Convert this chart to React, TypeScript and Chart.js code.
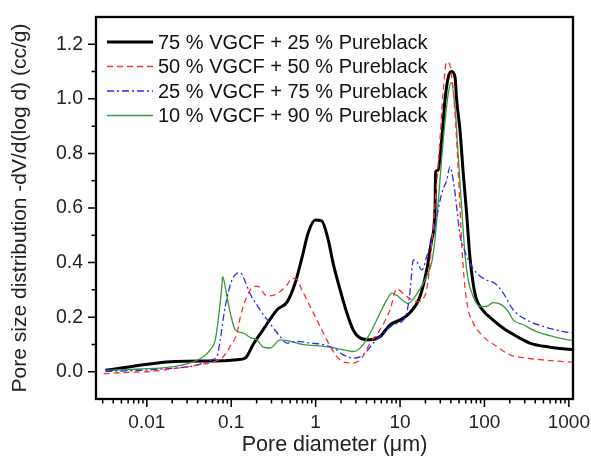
import React, { useEffect, useRef } from "react";
import { Chart, registerables } from "chart.js";

Chart.register(...registerables);

const FONT = "'Liberation Sans', Arial, sans-serif";

const seriesLabels = [
  "75 % VGCF + 25 % Pureblack",
  "50 % VGCF + 50 % Pureblack",
  "25 % VGCF + 75 % Pureblack",
  "10 % VGCF + 90 % Pureblack",
];

// 75 % VGCF (black)
const blackX = [0.00323, 0.0217, 0.0804, 0.118, 0.1465, 0.182, 0.239, 0.35, 0.46, 0.572, 0.692, 0.815, 0.986, 1.18, 1.41, 1.61, 1.95, 2.34, 2.78, 3.36, 4.42, 5.8, 7.62, 10, 13.1, 17.2, 20.7, 23.7, 26.0, 26.4, 28.4, 31.1, 34.1, 37.3, 40.9, 44.8, 46.9, 51.3, 56.1, 61.5, 67.3, 73, 79.6, 95.9, 126, 166, 243, 345, 596, 1000, 1110];
const blackY = [0.005, 0.037, 0.04, 0.044, 0.05, 0.1, 0.154, 0.227, 0.256, 0.325, 0.42, 0.508, 0.556, 0.553, 0.483, 0.398, 0.3, 0.216, 0.154, 0.124, 0.117, 0.129, 0.172, 0.19, 0.216, 0.275, 0.373, 0.483, 0.6, 0.732, 0.739, 0.848, 0.995, 1.08, 1.1, 1.08, 0.995, 0.885, 0.727, 0.58, 0.42, 0.33, 0.27, 0.225, 0.19, 0.16, 0.129, 0.105, 0.09, 0.082, 0.081];

// 50 % VGCF (red dashed)
const redX = [0.00308, 0.00531, 0.011, 0.0228, 0.043, 0.0678, 0.081, 0.0973, 0.117, 0.128, 0.153, 0.184, 0.206, 0.264, 0.347, 0.456, 0.527, 0.59, 0.688, 0.861, 1.13, 1.42, 1.78, 2.23, 2.8, 3.52, 4.42, 5.8, 7.62, 9.14, 11.5, 15.8, 19.8, 21.4, 23.9, 26.7, 29.7, 32.5, 35.7, 38.3, 42.7, 46.9, 51.3, 54.2, 58.8, 64.3, 73.7, 96.8, 139, 200, 316, 596, 1100];
const redY = [-0.007, -0.003, 0.001, 0.013, 0.026, 0.041, 0.056, 0.093, 0.141, 0.2, 0.275, 0.312, 0.313, 0.278, 0.285, 0.318, 0.342, 0.34, 0.3, 0.239, 0.166, 0.105, 0.056, 0.034, 0.032, 0.05, 0.105, 0.154, 0.227, 0.303, 0.28, 0.257, 0.28, 0.33, 0.48, 0.66, 0.85, 1.03, 1.135, 1.13, 1.03, 0.848, 0.604, 0.45, 0.31, 0.227, 0.178, 0.129, 0.093, 0.062, 0.05, 0.041, 0.035];

// 25 % VGCF (blue dash-dot)
const blueX = [0.00323, 0.00838, 0.0208, 0.0327, 0.047, 0.0591, 0.0678, 0.0741, 0.081, 0.089, 0.102, 0.117, 0.128, 0.1465, 0.168, 0.22, 0.29, 0.38, 0.456, 0.6, 0.861, 1.24, 1.63, 2.13, 2.8, 3.68, 4.83, 6.34, 8.33, 10.5, 12, 13.1, 14.4, 15.8, 18.1, 20.7, 23.7, 27.2, 31.1, 35.7, 39.1, 42.7, 46.9, 51.3, 56.1, 64.3, 80.9, 106, 133, 167, 219, 316, 497, 981, 1100];
const blueY = [0.001, 0.005, 0.013, 0.019, 0.032, 0.044, 0.056, 0.117, 0.2, 0.27, 0.336, 0.361, 0.363, 0.33, 0.285, 0.227, 0.175, 0.129, 0.105, 0.111, 0.105, 0.099, 0.087, 0.062, 0.05, 0.062, 0.105, 0.141, 0.172, 0.184, 0.215, 0.29, 0.41, 0.403, 0.373, 0.422, 0.483, 0.568, 0.653, 0.702, 0.751, 0.702, 0.604, 0.5, 0.458, 0.41, 0.361, 0.336, 0.324, 0.288, 0.227, 0.19, 0.166, 0.144, 0.142];

// 10 % VGCF (green)
const greenX = [0.00323, 0.00838, 0.0208, 0.0327, 0.047, 0.0564, 0.0647, 0.0708, 0.0777, 0.079, 0.0826, 0.089, 0.102, 0.111, 0.14, 0.168, 0.201, 0.241, 0.29, 0.38, 0.5, 0.718, 1.24, 1.95, 2.8, 3.52, 4.42, 5.8, 6.97, 7.98, 9.14, 10.9, 12.4, 15.8, 20.7, 23.7, 25.9, 32.5, 37.3, 40.2, 44.8, 49, 53.7, 58.8, 64.3, 73.7, 88.5, 106, 127, 160, 192, 219, 288, 415, 652, 981, 1100];
const greenY = [0.005, 0.01, 0.019, 0.032, 0.056, 0.08, 0.117, 0.2, 0.32, 0.348, 0.33, 0.275, 0.19, 0.154, 0.141, 0.125, 0.117, 0.09, 0.087, 0.117, 0.111, 0.099, 0.093, 0.083, 0.074, 0.093, 0.141, 0.215, 0.263, 0.288, 0.28, 0.26, 0.25, 0.285, 0.35, 0.4, 0.483, 0.848, 1.02, 1.06, 0.97, 0.787, 0.604, 0.43, 0.336, 0.275, 0.239, 0.239, 0.253, 0.245, 0.22, 0.19, 0.172, 0.147, 0.129, 0.117, 0.115];

const xMajorTicks = [0.01, 0.1, 1, 10, 100, 1000];
const xTickLabels = ["0.01", "0.1", "1", "10", "100", "1000"];
const yMajorTicks = [0, 0.2, 0.4, 0.6, 0.8, 1.0, 1.2];
const yMinorTicks = [0.1, 0.3, 0.5, 0.7, 0.9, 1.1];

const colors = ["#000000", "#ff3030", "#2a2aff", "#3a9a3a"];
const widths = [3, 1.3, 1.3, 1.3];
const dashes: number[][] = [[], [6, 4], [7, 3, 2, 3], []];

function toPoints(xs: number[], ys: number[]) {
  return xs.map((x, i) => ({ x, y: ys[i] }));
}

const framePlugin = {
  id: "frameTicks",
  afterDraw(chart: any) {
    const { ctx, chartArea } = chart;
    const { left, right, top, bottom } = chartArea;
    const xs = chart.scales.x;
    const ys = chart.scales.y;
    ctx.save();
    ctx.strokeStyle = "#000";
    ctx.setLineDash([]);
    ctx.lineWidth = 1.5;
    const xMinor: number[] = [];
    for (let d = -3; d <= 3; d++) {
      for (let m = 2; m <= 9; m++) {
        const v = m * Math.pow(10, d);
        if (v > xs.min && v < xs.max) xMinor.push(v);
      }
    }
    ctx.beginPath();
    xMajorTicks.forEach((v) => {
      const p = xs.getPixelForValue(v);
      ctx.moveTo(p, bottom);
      ctx.lineTo(p, bottom + 8);
    });
    xMinor.forEach((v) => {
      const p = xs.getPixelForValue(v);
      ctx.moveTo(p, bottom);
      ctx.lineTo(p, bottom + 4.5);
    });
    yMajorTicks.forEach((v) => {
      const p = ys.getPixelForValue(v);
      ctx.moveTo(left, p);
      ctx.lineTo(left - 8, p);
    });
    yMinorTicks.forEach((v) => {
      const p = ys.getPixelForValue(v);
      ctx.moveTo(left, p);
      ctx.lineTo(left - 4.5, p);
    });
    ctx.stroke();
    ctx.lineWidth = 2.3;
    ctx.strokeRect(left, top, right - left, bottom - top);

    // legend
    const rowY0 = top + 25;
    const rowGap = 24.5;
    chart.data.datasets.forEach((ds: any, i: number) => {
      const y = rowY0 + i * rowGap;
      ctx.beginPath();
      ctx.strokeStyle = ds.borderColor;
      ctx.lineWidth = ds.borderWidth;
      ctx.setLineDash(ds.borderDash || []);
      ctx.moveTo(left + 11, y);
      ctx.lineTo(left + 57, y);
      ctx.stroke();
      ctx.setLineDash([]);
      ctx.fillStyle = "#111";
      ctx.font = `20px ${FONT}`;
      ctx.textBaseline = "middle";
      ctx.textAlign = "left";
      ctx.fillText(ds.label, left + 62, y + 1);
    });
    ctx.restore();
  },
};

export default function App() {
  const ref = useRef<HTMLCanvasElement | null>(null);
  useEffect(() => {
    if (!ref.current) return;
    const sets = [
      [blackX, blackY],
      [redX, redY],
      [blueX, blueY],
      [greenX, greenY],
    ];
    const chart = new Chart(ref.current, {
      type: "line",
      data: {
        datasets: sets.map(([xs, ys], i) => ({
          label: seriesLabels[i],
          data: toPoints(xs, ys),
          borderColor: colors[i],
          backgroundColor: colors[i],
          borderWidth: widths[i],
          borderDash: dashes[i],
          pointRadius: 0,
          fill: false,
          cubicInterpolationMode: "monotone" as const,
          order: i === 0 ? 4 : i,
        })),
      },
      options: {
        animation: false,
        responsive: true,
        maintainAspectRatio: false,
        layout: { padding: { top: 17, right: 18, left: 0, bottom: 0 } },
        plugins: {
          legend: { display: false },
          tooltip: { enabled: false },
        },
        scales: {
          x: {
            type: "logarithmic",
            min: 0.0025,
            max: 1120,
            grid: { display: false, drawTicks: false },
            border: { display: false },
            afterBuildTicks: (scale: any) => {
              scale.ticks = xMajorTicks.map((v) => ({ value: v }));
            },
            afterFit: (scale: any) => {
              scale.height = 69;
              scale.paddingLeft = 0;
              scale.paddingRight = 0;
            },
            ticks: {
              autoSkip: false,
              maxRotation: 0,
              padding: 12,
              color: "#222",
              font: { family: FONT, size: 19 },
              callback: (_v: any, i: number) => xTickLabels[i],
            },
            title: {
              display: true,
              text: "Pore diameter (μm)",
              color: "#222",
              font: { family: FONT, size: 21.5 },
              padding: { top: 0, bottom: 10 },
            },
          },
          y: {
            type: "linear",
            min: -0.1,
            max: 1.3,
            grid: { display: false, drawTicks: false },
            border: { display: false },
            afterBuildTicks: (scale: any) => {
              scale.ticks = yMajorTicks.map((v) => ({ value: v }));
            },
            afterFit: (scale: any) => {
              scale.width = 96;
              scale.paddingTop = 0;
              scale.paddingBottom = 0;
            },
            ticks: {
              padding: 13,
              color: "#222",
              font: { family: FONT, size: 19.5 },
              callback: (v: any) => Number(v).toFixed(1),
            },
            title: {
              display: true,
              text: "Pore size distribution -dV/d(log d) (cc/g)",
              color: "#222",
              font: { family: FONT, size: 21 },
              padding: { top: 8, bottom: 0 },
            },
          },
        },
      },
      plugins: [framePlugin],
    });
    return () => chart.destroy();
  }, []);

  return (
    <div style={{ position: "absolute", left: 0, top: 0, width: 591, height: 468, background: "#fff" }}>
      <canvas ref={ref} />
    </div>
  );
}
